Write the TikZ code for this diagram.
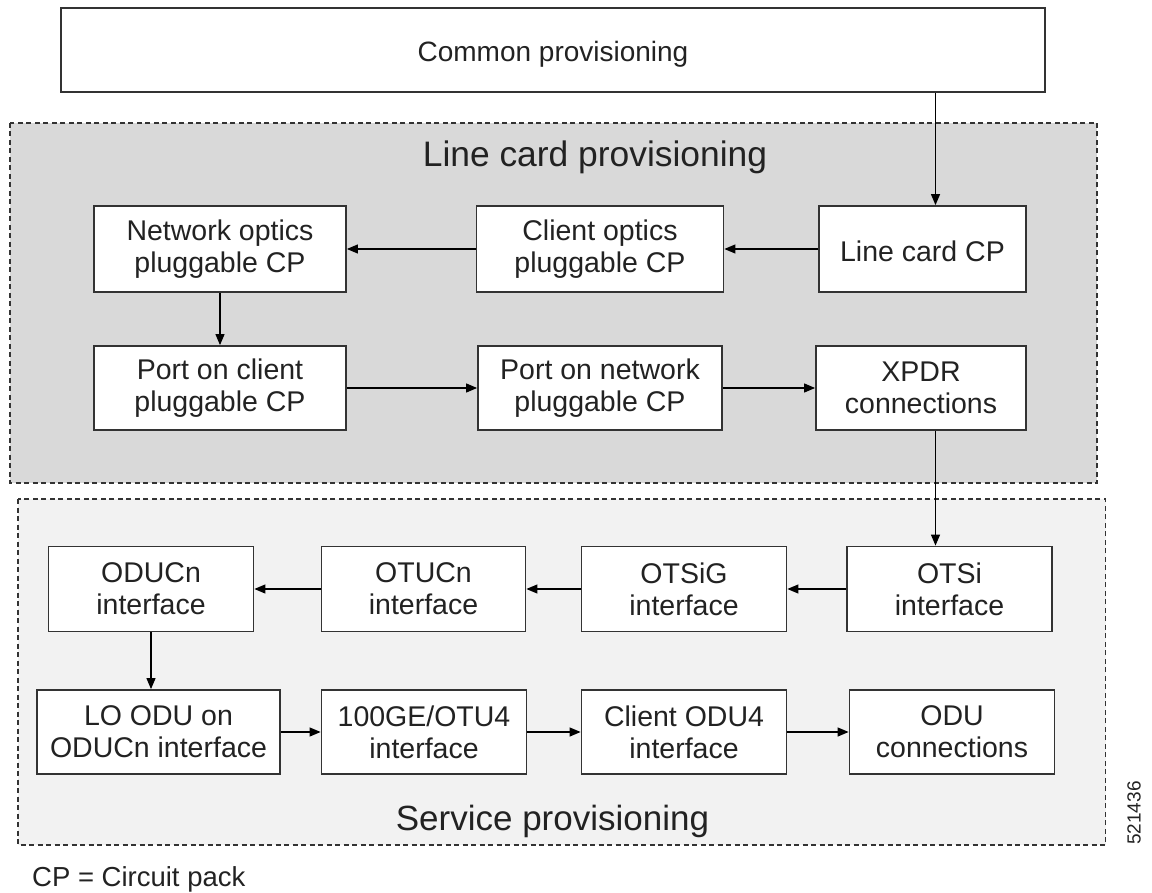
\documentclass[tikz,border=0pt]{standalone}
\usepackage{fontspec}
\setmainfont{Liberation Sans}
\usetikzlibrary{arrows.meta,calc}
\definecolor{lcgray}{HTML}{D9D9D9}
\definecolor{spgray}{HTML}{F2F2F2}
\definecolor{edge}{HTML}{333333}
\definecolor{ink}{HTML}{222222}
\begin{document}
\begin{tikzpicture}[x=1pt,y=-1pt,
  bx/.style={draw=edge, line width=1.8pt, fill=white, align=center, text=ink,
    font=\fontsize{28.5}{32}\selectfont, inner sep=0pt,
    execute at begin node={\rule{0pt}{26pt}}},
  region/.style={draw=edge, line width=1.3pt, dash pattern=on 5pt off 3.5pt},
  conn/.style={draw=black, line width=1.2pt, -{Triangle[length=11pt,width=9pt]}},
  title/.style={text=ink, inner sep=0pt}]
\useasboundingbox (0,0) rectangle (1152,893);
% regions
\path[region, fill=lcgray] (10,123) rectangle (1097,483);
\path[region, fill=spgray] (18,499) rectangle (1105.5,845);
% top box
\node[bx, minimum width=984pt, minimum height=84pt, font=\fontsize{28}{32}\selectfont,
  execute at begin node={}, text height=24pt, text depth=0pt] (common) at (553,50) {Common provisioning};
\node[title, anchor=base, font=\fontsize{35.4}{40}\selectfont] (lctitle) at (595,167) {Line card provisioning};
% row 1
\node[bx, minimum width=252pt, minimum height=86pt] (netopt) at (220,249) {Network optics\\pluggable CP};
\node[bx, minimum width=247pt, minimum height=86pt] (cliopt) at (600,249) {Client optics\\pluggable CP};
\node[bx, minimum width=207pt, minimum height=86pt] (lccp) at (922.5,249) {Line card CP};
% row 2
\node[bx, minimum width=252pt, minimum height=84pt] (portcli) at (220,388) {Port on client\\pluggable CP};
\node[bx, minimum width=244pt, minimum height=84pt] (portnet) at (600,388) {Port on network\\pluggable CP};
\node[bx, minimum width=210pt, minimum height=84pt] (xpdr) at (921,388) {XPDR\\connections};
% row 3
\node[bx, minimum width=205pt, minimum height=85pt] (oducn) at (151,589) {ODUCn\\interface};
\node[bx, minimum width=204pt, minimum height=85pt] (otucn) at (423.5,589) {OTUCn\\interface};
\node[bx, minimum width=205pt, minimum height=85pt] (otsig) at (684,589) {OTSiG\\interface};
\node[bx, minimum width=205pt, minimum height=85pt] (otsi) at (949.5,589) {OTSi\\interface};
% row 4
\node[bx, minimum width=243pt, minimum height=84pt] (loodu) at (158.5,732) {LO ODU on\\ODUCn interface};
\node[bx, minimum width=205pt, minimum height=84pt] (otu4) at (424,732) {100GE/OTU4\\interface};
\node[bx, minimum width=205pt, minimum height=84pt] (codu4) at (684,732) {Client ODU4\\interface};
\node[bx, minimum width=205pt, minimum height=84pt] (oduconn) at (952,732) {ODU\\connections};
% titles
\node[title, anchor=base, font=\fontsize{35}{40}\selectfont] (sptitle) at (552.5,830) {Service provisioning};
\node[title, anchor=base west, font=\fontsize{27.5}{32}\selectfont] (cplegend) at (32,886) {CP = Circuit pack};
\node[title, rotate=90, font=\fontsize{19}{22}\selectfont] (figno) at (1134,813) {521436};
% connectors
\coordinate (xa) at (935.5,0);
\draw[conn] (common.south -| xa) -- (lccp.north -| xa);
\draw[conn] (lccp.west) -- (cliopt.east);
\draw[conn] (cliopt.west) -- (netopt.east);
\draw[conn] (netopt.south) -- (portcli.north);
\draw[conn] (portcli.east) -- (portnet.west);
\draw[conn] (portnet.east) -- (xpdr.west);
\draw[conn] (xpdr.south -| xa) -- (otsi.north -| xa);
\draw[conn] (otsi.west) -- (otsig.east);
\draw[conn] (otsig.west) -- (otucn.east);
\draw[conn] (otucn.west) -- (oducn.east);
\draw[conn] (oducn.south) -- (oducn.south |- loodu.north);
\draw[conn] (loodu.east) -- (otu4.west);
\draw[conn] (otu4.east) -- (codu4.west);
\draw[conn] (codu4.east) -- (oduconn.west);
\end{tikzpicture}
\end{document}
